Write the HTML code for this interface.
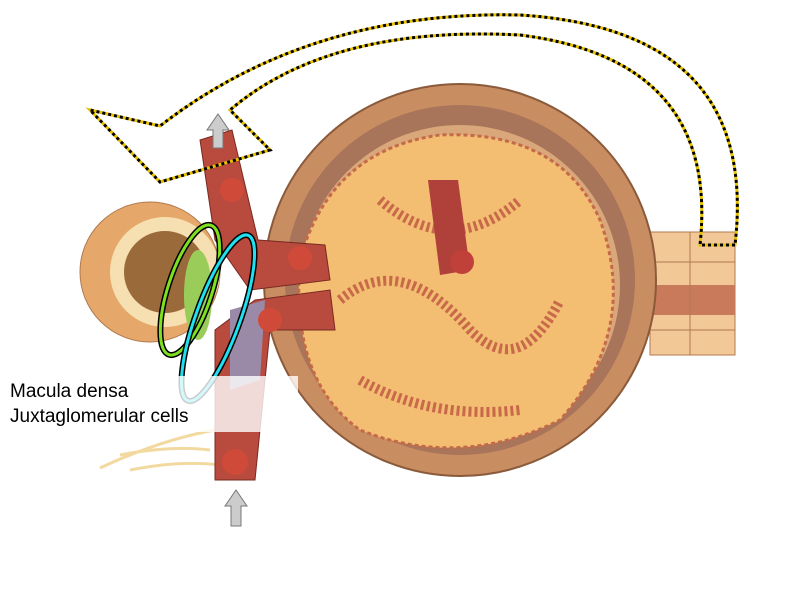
<!DOCTYPE html>
<html><head><style>html,body{margin:0;padding:0;background:#fff;}svg{display:block}</style></head>
<body>
<svg width="800" height="600" viewBox="0 0 800 600" xmlns="http://www.w3.org/2000/svg">
<rect width="800" height="600" fill="#fff"/>
<!-- nerve fibers -->
<path d="M100,468 Q160,440 215,430 M120,455 Q170,445 210,450 M130,470 Q180,460 220,465" stroke="#f2d9a0" stroke-width="3" fill="none"/>
<!-- right tubule -->
<rect x="650" y="232" width="85" height="123" fill="#f2c896" stroke="#b07a50"/>
<rect x="650" y="285" width="85" height="30" fill="#c97a5a"/>
<path d="M690,232 V355 M650,262 H735 M650,330 H735" stroke="#b07a50" fill="none"/>
<!-- capsule -->
<circle cx="460" cy="280" r="196" fill="#c98d62" stroke="#8a5a3a" stroke-width="2"/>
<circle cx="460" cy="280" r="175" fill="#a8745a"/>
<circle cx="460" cy="285" r="160" fill="#d9a77a"/>
<path d="M300,260 Q330,150 440,135 Q560,130 600,220 Q640,330 560,420 Q460,470 360,430 Q290,380 300,260Z" fill="#f3bd72" stroke="#c56a48" stroke-width="3" stroke-dasharray="4 3"/>
<path d="M340,300 Q400,250 470,330 Q520,380 560,300 M380,200 Q450,260 520,200 M360,380 Q430,420 520,410" stroke="#c86a4a" stroke-width="10" stroke-dasharray="3 3" fill="none"/>
<path d="M428,180 L458,180 L470,270 L440,275Z" fill="#b0403a"/>
<circle cx="462" cy="262" r="12" fill="#c0403a"/>
<!-- left tubule -->
<circle cx="150" cy="272" r="70" fill="#e6a86a" stroke="#b07a50"/>
<circle cx="165" cy="272" r="48" fill="#9a6a3a" stroke="#f6dfb0" stroke-width="14"/>
<circle cx="150" cy="272" r="70" fill="none" stroke="#fff" stroke-width="0"/>
<ellipse cx="198" cy="295" rx="14" ry="45" fill="#9acc5a"/>
<!-- vessels -->
<path d="M200,140 L232,130 L258,240 L325,245 L330,280 L250,290 L215,240Z" fill="#b84a3e" stroke="#7a2a22"/>
<path d="M255,300 L330,290 L335,330 L270,330 L255,480 L215,480 L215,330Z" fill="#b84a3e" stroke="#7a2a22"/>
<path d="M230,310 L265,300 L260,380 L230,390Z" fill="#9a8aa8"/>
<circle cx="232" cy="190" r="12" fill="#d04a3a"/>
<circle cx="270" cy="320" r="12" fill="#d04a3a"/>
<circle cx="235" cy="462" r="13" fill="#d04a3a"/>
<circle cx="300" cy="258" r="12" fill="#d04a3a"/>
<!-- dashed arrow -->
<path d="M735,245 L700,245 Q720,60 520,35 Q330,25 230,110 L270,150 L160,182 L90,110 L160,126 Q310,10 520,15 Q760,30 735,245Z" fill="none" stroke="#e8c000" stroke-width="3"/>
<path d="M735,245 L700,245 Q720,60 520,35 Q330,25 230,110 L270,150 L160,182 L90,110 L160,126 Q310,10 520,15 Q760,30 735,245Z" fill="none" stroke="#000" stroke-width="3" stroke-dasharray="3 3"/>
<!-- gray arrows -->
<path d="M213,148 V130 H207 L218,114 L229,130 H223 V148Z" fill="#ccc" stroke="#777"/>
<path d="M231,526 V506 H225 L236,490 L247,506 H241 V526Z" fill="#ccc" stroke="#777"/>
<!-- ellipses -->
<ellipse cx="190" cy="290" rx="22" ry="68" transform="rotate(18 190 290)" fill="none" stroke="#000" stroke-width="6"/>
<ellipse cx="190" cy="290" rx="22" ry="68" transform="rotate(18 190 290)" fill="none" stroke="#7fe020" stroke-width="3"/>
<ellipse cx="218" cy="318" rx="22" ry="88" transform="rotate(20 218 318)" fill="none" stroke="#000" stroke-width="6"/>
<ellipse cx="218" cy="318" rx="22" ry="88" transform="rotate(20 218 318)" fill="none" stroke="#20e0f0" stroke-width="3"/>
<!-- label box -->
<rect x="0" y="376" width="298" height="56" fill="#fff" fill-opacity="0.8"/>
<text x="10" y="397" font-family="Liberation Sans, sans-serif" font-size="19" fill="#000">Macula densa</text>
<text x="10" y="422" font-family="Liberation Sans, sans-serif" font-size="19" fill="#000">Juxtaglomerular cells</text>
</svg>
</body></html>
